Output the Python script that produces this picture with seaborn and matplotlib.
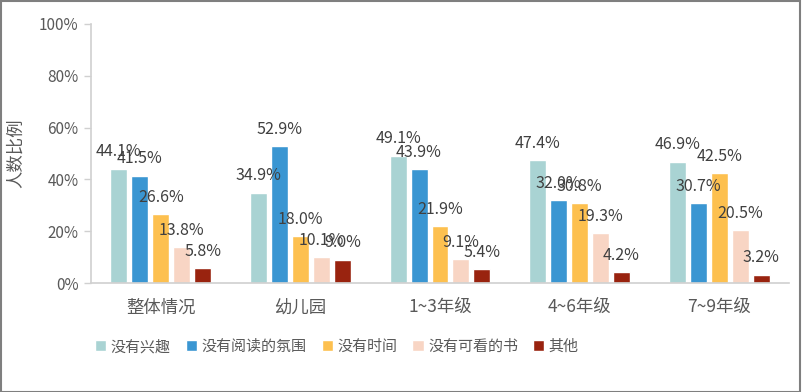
import matplotlib
matplotlib.use("Agg")
import matplotlib.pyplot as plt
import seaborn as sns
import pandas as pd
import numpy as np
from matplotlib.patches import Rectangle

categories = ["整体情况", "幼儿园", "1~3年级", "4~6年级", "7~9年级"]
series_names = ["没有兴趣", "没有阅读的氛围", "没有时间", "没有可看的书", "其他"]
no_interest = [44.1, 34.9, 49.1, 47.4, 46.9]
no_atmosphere = [41.5, 52.9, 43.9, 32.0, 30.7]
no_time = [26.6, 18.0, 21.9, 30.8, 42.5]
no_books = [13.8, 10.1, 9.1, 19.3, 20.5]
other = [5.8, 9.0, 5.4, 4.2, 3.2]
yticks = [0, 20, 40, 60, 80, 100]
colors = ["#A9D3D3", "#3A96D2", "#FDC04F", "#F8D5C4", "#99230F"]

series_values = [no_interest, no_atmosphere, no_time, no_books, other]
rows = []
for name, vals in zip(series_names, series_values):
    for c, v in zip(categories, vals):
        rows.append({"类别": c, "原因": name, "比例": v})
df = pd.DataFrame(rows)

sns.set_theme(style="white")
plt.rcParams['font.family'] = ['Noto Sans CJK SC', 'DejaVu Sans']

fig = plt.figure(figsize=(8.02, 3.92), dpi=100)
ax = fig.add_axes([91/802, 1-283/392, (789-91)/802, (283-24)/392])

sns.barplot(data=df, x="类别", y="比例", hue="原因", order=categories,
            hue_order=series_names, palette=colors, width=0.75, gap=0.19,
            ax=ax, legend=True, saturation=1)

text_color = "#595959"
for cont in ax.containers:
    for p, v in zip(cont.patches, cont.datavalues):
        ax.annotate(f"{v:.1f}%", (p.get_x() + p.get_width()/2, p.get_height()),
                    xytext=(0, 6), textcoords="offset points",
                    ha="center", va="bottom", fontsize=11.5, color="#404040")

ax.set_ylim(0, 100)
ax.set_xlim(-0.5, len(categories) - 0.5)
ax.set_yticks(yticks)
ax.set_yticklabels([f"{t}%" for t in yticks], fontsize=11, color=text_color)
ax.set_xticks(range(len(categories)))
ax.set_xticklabels(categories, fontsize=12.5, color=text_color)
ax.set_xticks(np.arange(-0.5, len(categories), 1), minor=True)
ax.tick_params(axis="x", which="major", length=0, pad=11)
ax.tick_params(axis="x", which="minor", length=5, color="#D0D0D0", width=1)
ax.tick_params(axis="y", length=5, color="#D0D0D0", width=1, pad=4, direction="out", left=True)
ax.set_xlabel("")
ax.set_ylabel("")
fig.text(16/802, 1-153/392, "人数比例", rotation=90, ha="center", va="center",
         fontsize=12.5, color=text_color)
for s in ["top", "right"]:
    ax.spines[s].set_visible(False)
for s in ["left", "bottom"]:
    ax.spines[s].set_color("#D0D0D0")
    ax.spines[s].set_linewidth(1.2)

handles, labels = ax.get_legend_handles_labels()
ax.legend_.remove()
fig.legend(handles, labels, loc="center", bbox_to_anchor=(337/802, 1-347/392),
           ncol=5, frameon=False, fontsize=10.8, handlelength=0.75, handleheight=0.75,
           handletextpad=0.3, columnspacing=1.0, labelcolor=text_color)

fig.patches.append(Rectangle((0.001, 0.001), 0.997, 0.997, transform=fig.transFigure,
                             fill=False, edgecolor="#7F7F7F", linewidth=1.5))

fig.savefig("out.png", dpi=100)
